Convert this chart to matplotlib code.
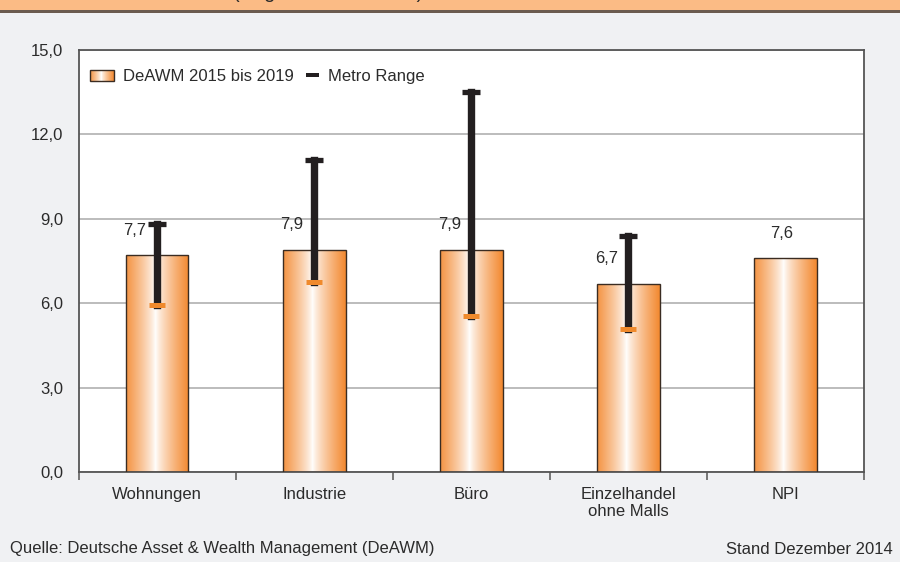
import numpy as np
import matplotlib
matplotlib.use("Agg")
import matplotlib.pyplot as plt
from matplotlib.patches import Rectangle
from matplotlib.legend_handler import HandlerBase
from matplotlib.lines import Line2D

plt.rcParams['font.family'] = ['Liberation Sans', 'DejaVu Sans']

# ---- data ----
categories = ["Wohnungen", "Industrie", "Büro", "Einzelhandel\nohne Malls", "NPI"]
deawm_values = [7.7, 7.9, 7.9, 6.7, 7.6]
metro_low = [5.95, 6.75, 5.55, 5.1, np.nan]
metro_high = [8.8, 11.1, 13.5, 8.4, np.nan]
value_labels = ["7,7", "7,9", "7,9", "6,7", "7,6"]
y_ticks = [0, 3, 6, 9, 12, 15]
y_tick_labels = ["0,0", "3,0", "6,0", "9,0", "12,0", "15,0"]
legend_labels = ["DeAWM 2015 bis 2019", "Metro Range"]

W, H = 900, 562
BG = '#f0f1f3'
ORANGE = np.array([243, 137, 48]) / 255.0
TXT = '#2b2b2b'
FS = 12

fig = plt.figure(figsize=(W / 100, H / 100), dpi=100)
fig.patch.set_facecolor(BG)

# header band (cut off at top)
fig.patches.append(Rectangle((0, 1 - 10 / H), 1, 10 / H, transform=fig.transFigure,
                             facecolor='#fbbb85', edgecolor='none', zorder=0))
fig.patches.append(Rectangle((0, 1 - 12.5 / H), 1, 2.5 / H, transform=fig.transFigure,
                             facecolor='#6b5b4f', edgecolor='none', zorder=0))
fig.text(233 / W, 1 - 2.5 / H, "(Angaben in Prozent)", fontsize=14.5, color=TXT,
         ha='left', va='bottom', fontweight='normal')

ax = fig.add_axes([78.5 / W, 90 / H, (864 - 78.5) / W, 422 / H])
ax.set_facecolor('white')
x = np.arange(len(categories))


def gradient_row(n=256):
    u = np.linspace(0, 1, n)
    t = np.clip(np.abs(u - 0.47) / 0.53, 0, 1) ** 0.8
    rgb = (1 - t)[:, None] * np.ones(3)[None, :] + t[:, None] * ORANGE[None, :]
    return rgb[None, :, :]


grad = gradient_row()

bars = ax.bar(x, deawm_values, width=0.4, facecolor='none', edgecolor='#3a2c22',
              linewidth=1.0, zorder=3)
for b in bars:
    x0, y0, w, h = b.get_x(), b.get_y(), b.get_width(), b.get_height()
    im = ax.imshow(grad, extent=(x0, x0 + w, y0, y0 + h), aspect='auto', zorder=2,
                   interpolation='bilinear')
    im.set_clip_path(b)
ax.set_xlim(-0.5, len(categories) - 0.5)
ax.set_ylim(0, 15)

# metro range
for i in range(len(categories)):
    lo, hi = metro_low[i], metro_high[i]
    if np.isnan(lo):
        continue
    ax.plot([x[i], x[i]], [lo, hi], color='#231f20', lw=5.3, solid_capstyle='projecting',
            zorder=4)
    ax.plot([x[i]], [hi], marker='_', markersize=12.5, markeredgewidth=3.8,
            color='#231f20', zorder=5)
    ax.plot([x[i]], [lo], marker='_', markersize=11.5, markeredgewidth=3.6,
            color='#f08a2c', zorder=5)

# value labels
for i, v in enumerate(deawm_values):
    dx = -22 if not np.isnan(metro_low[i]) else -4
    ax.annotate(value_labels[i], xy=(x[i], v), xytext=(dx * 0.72, 18), textcoords='offset points',
                ha='center', va='center', fontsize=FS, color=TXT, zorder=6)

# grid
ax.set_yticks(y_ticks)
ax.set_yticklabels(y_tick_labels, fontsize=FS, color=TXT)
ax.yaxis.grid(True, color='#a9a9a9', lw=1.1, zorder=1)
ax.set_axisbelow(True)
ax.tick_params(axis='y', length=0, pad=11)

ax.set_xticks(x)
ax.set_xticklabels(categories, fontsize=FS, color=TXT, linespacing=1.2)
ax.tick_params(axis='x', which='major', length=0, pad=10.5)
ax.set_xticks(np.arange(len(categories) + 1) - 0.5, minor=True)
ax.tick_params(axis='x', which='minor', length=5.5, width=1.1, color='#555555',
               direction='out')

for s in ax.spines.values():
    s.set_color('#555555')
    s.set_linewidth(1.3)


# legend with gradient handle
class GradHandler(HandlerBase):
    def create_artists(self, legend, orig_handle, xdescent, ydescent, width, height,
                       fontsize, trans):
        arts = []
        n = 24
        for k in range(n):
            c = grad[0, int((k + 0.5) / n * grad.shape[1])]
            arts.append(Rectangle((-xdescent + width * k / n, -ydescent), width / n, height,
                                  facecolor=c, edgecolor='none', transform=trans))
        arts.append(Rectangle((-xdescent, -ydescent), width, height, facecolor='none',
                              edgecolor='#3a2c22', lw=1.0, transform=trans))
        return arts


class BarHandler(HandlerBase):
    def create_artists(self, legend, orig_handle, xdescent, ydescent, width, height,
                       fontsize, trans):
        x1 = -xdescent + width
        r = Rectangle((x1 - 0.56 * width, -ydescent + height / 2 - 1.5), 0.56 * width, 3.0,
                      facecolor='#231f20', edgecolor='none', transform=trans)
        return [r]


h1 = Rectangle((0, 0), 1, 1)
h2 = Line2D([], [])
leg = ax.legend([h1, h2], legend_labels, handler_map={Rectangle: GradHandler(), Line2D: BarHandler()},
                loc='upper left', bbox_to_anchor=(-0.004, 0.99), frameon=False, fontsize=FS,
                handlelength=1.4, handleheight=0.6, handletextpad=0.55, ncol=2,
                columnspacing=0.12, labelcolor=TXT)

# footer
fig.text(10 / W, 1 - 549 / H, "Quelle: Deutsche Asset & Wealth Management (DeAWM)",
         fontsize=FS, color=TXT, ha='left', va='center')
fig.text(893 / W, 1 - 549 / H, "Stand Dezember 2014", fontsize=FS, color=TXT,
         ha='right', va='center')

fig.savefig("out.png", dpi=100, facecolor=BG)
